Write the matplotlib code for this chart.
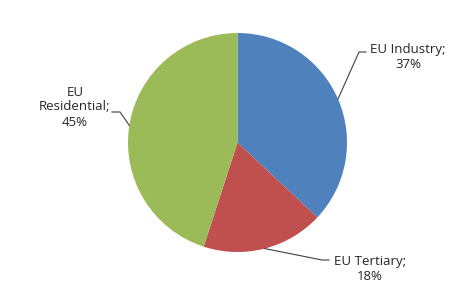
import numpy as np
import matplotlib
matplotlib.use("Agg")
import matplotlib.pyplot as plt

categories = ["EU Industry", "EU Tertiary", "EU Residential"]
shares = [37, 18, 45]
colors = ["#4F81BD", "#C0504D", "#9BBB59"]
label_texts = ["EU Industry;\n37%", "EU Tertiary;\n18%", "EU\nResidential;\n45%"]

W, H = 462, 287
fig = plt.figure(figsize=(W / 100, H / 100), dpi=100)
ax = fig.add_axes([0, 0, 1, 1])

cx, cy, r = 237.5, H - 142.5, 109.5
wedges, _ = ax.pie(shares, colors=colors, startangle=90, counterclock=False,
                   center=(cx, cy), radius=r, frame=True,
                   wedgeprops=dict(linewidth=0))
ax.set_xlim(0, W)
ax.set_ylim(0, H)
ax.axis("off")

# label layout (pixel coords, y from top): text center, elbow, line end
layout = [
    dict(text=(408, 57), elbow=(359, 52), end=(366, 52)),
    dict(text=(370, 269), elbow=(322, 260), end=(329, 260)),
    dict(text=(75, 107), elbow=(120, 112), end=(112, 112)),
]

for w, lab, lay in zip(wedges, label_texts, layout):
    mid = np.deg2rad((w.theta1 + w.theta2) / 2)
    ax_ = cx + r * np.cos(mid)
    ay_ = cy + r * np.sin(mid)
    ex, ey = lay["elbow"]
    fx, fy = lay["end"]
    ax.plot([ax_, ex, fx], [ay_, H - ey, H - fy], color="#404040", lw=0.8,
            solid_joinstyle="miter")
    tx, ty = lay["text"]
    ax.text(tx, H - ty, lab, ha="center", va="center", fontsize=9.5,
            family="Open Sans", color="#262626", linespacing=1.2)

fig.savefig("out.png", dpi=100, facecolor="white")
